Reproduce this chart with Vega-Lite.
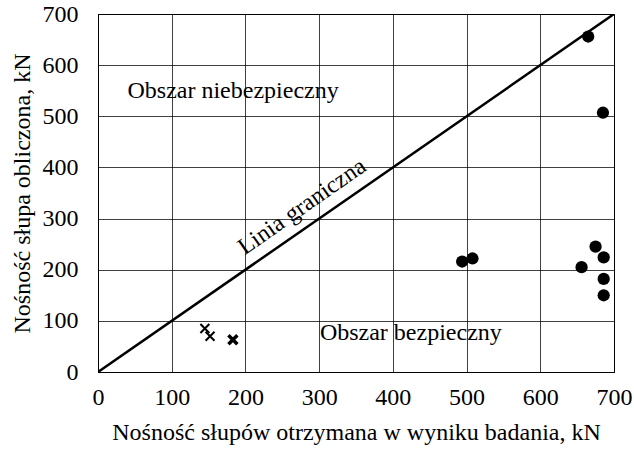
{
  "$schema": "https://vega.github.io/schema/vega-lite/v6.json",
  "width": 516,
  "height": 358,
  "autosize": {"type": "none"},
  "padding": {"left": 98, "top": 14, "right": 20, "bottom": 79},
  "background": "white",
  "config": {
    "view": {"stroke": "#000", "strokeWidth": 1},
    "font": "Liberation Serif",
    "axis": {
      "labelFont": "Liberation Serif",
      "titleFont": "Liberation Serif",
      "labelFontSize": 24,
      "titleFontSize": 24,
      "titleFontWeight": "normal",
      "labelColor": "#000",
      "titleColor": "#000",
      "domainColor": "#000",
      "gridColor": "#000",
      "gridOpacity": 0.75,
      "gridWidth": 1,
      "ticks": false,
      "labelFlush": false,
      "labelOverlap": false
    }
  },
  "datasets": {
    "circles": [
      {"x": 665, "y": 656},
      {"x": 685, "y": 507},
      {"x": 494, "y": 216},
      {"x": 508, "y": 222},
      {"x": 656, "y": 205},
      {"x": 675, "y": 245},
      {"x": 686, "y": 224},
      {"x": 686, "y": 182},
      {"x": 686, "y": 150}
    ],
    "crosses": [
      {"x": 145, "y": 85, "s": "thin"},
      {"x": 152, "y": 70, "s": "thin"},
      {"x": 183, "y": 63, "s": "bold"}
    ],
    "line": [{"x": 0, "y": 0}, {"x": 700, "y": 700}],
    "labels": [
      {"x": 40, "y": 550, "t": "Obszar niebezpieczny"},
      {"x": 301, "y": 76, "t": "Obszar bezpieczny"}
    ],
    "diag": [{"x": 277, "y": 323, "t": "Linia graniczna"}]
  },
  "encoding": {
    "x": {"field": "x", "type": "quantitative", "scale": {"domain": [0, 700], "nice": false},
      "axis": {"values": [0,100,200,300,400,500,600,700], "labelPadding": 13, "titlePadding": 11, "title": "Nośność słupów otrzymana w wyniku badania, kN"}},
    "y": {"field": "y", "type": "quantitative", "scale": {"domain": [0, 700], "nice": false},
      "axis": {"values": [0,100,200,300,400,500,600,700], "labelPadding": 20, "titlePadding": 8, "title": "Nośność słupa obliczona, kN"}}
  },
  "layer": [
    {
      "data": {"name": "line"},
      "mark": {"type": "line", "color": "#000", "strokeWidth": 2.5, "clip": true}
    },
    {
      "data": {"name": "circles"},
      "mark": {"type": "point", "shape": "circle", "filled": true, "color": "#000", "size": 150, "opacity": 1}
    },
    {
      "data": {"name": "crosses"},
      "mark": {"type": "point", "shape": "M-1,-1L1,1M-1,1L1,-1", "filled": false, "color": "#000", "size": 80, "opacity": 1},
      "encoding": {
        "strokeWidth": {"field": "s", "type": "nominal", "scale": {"domain": ["thin", "bold"], "range": [2, 3.5]}, "legend": null}
      }
    },
    {
      "data": {"name": "labels"},
      "mark": {"type": "text", "align": "left", "baseline": "middle", "fontSize": 24, "font": "Liberation Serif", "color": "#000"},
      "encoding": {"text": {"field": "t"}}
    },
    {
      "data": {"name": "diag"},
      "mark": {"type": "text", "align": "center", "baseline": "middle", "fontSize": 24, "font": "Liberation Serif", "color": "#000", "angle": 325},
      "encoding": {"text": {"field": "t"}}
    }
  ]
}
